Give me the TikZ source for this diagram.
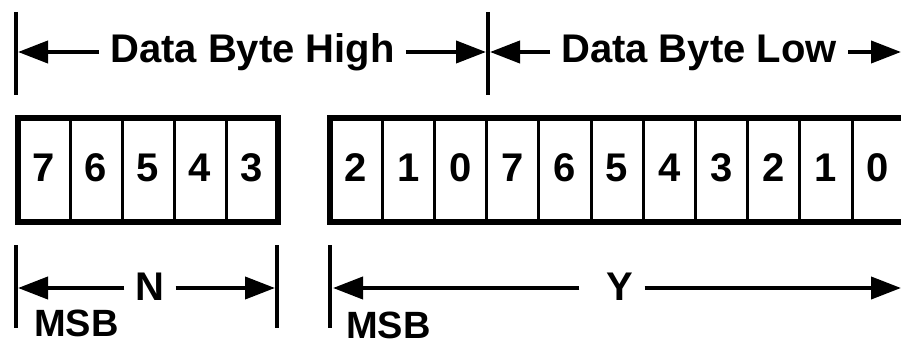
\documentclass[tikz,border=0pt]{standalone}
\usepackage{fontspec}
\setmainfont{Liberation Sans}
\usetikzlibrary{arrows.meta}
\begin{document}
\begin{tikzpicture}[x={(1pt,0pt)},y={(0pt,-1pt)},
  lbl/.style={font=\bfseries\fontsize{40}{40}\selectfont, inner xsep=11pt, inner ysep=0pt, anchor=base},
  msb/.style={font=\bfseries\fontsize{38}{38}\selectfont, inner sep=0pt, anchor=base},
  cell/.style={draw, line width=3pt, minimum width=52pt, minimum height=104pt, inner sep=0pt, outer sep=0pt, text depth=4pt, font=\bfseries\fontsize{40}{40}\selectfont},
  frame/.style={draw, line width=6pt},
  tick/.style={line width=3.5pt},
  arr/.style={line width=4pt, -{Triangle[length=30pt,width=22pt]}},
]
\useasboundingbox (0,0) rectangle (901,347);
\clip (0,0) rectangle (901,347);

% top dimension line
\coordinate (tka) at (16,12);
\coordinate (tkb) at (16,95);
\coordinate (tkc) at (488,12);
\coordinate (tkd) at (488,95);
\draw[tick] (tka) -- (tkb);
\draw[tick] (tkc) -- (tkd);
\node[lbl] (high) at (252.5,63) {Data Byte High};
\node[lbl] (low) at (699,63) {Data Byte Low};
\coordinate (h1) at (18,52);
\coordinate (h2) at (486,52);
\coordinate (l1) at (490,52);
\coordinate (l2) at (901,52);
\draw[arr] (high.west |- h1) -- (h1);
\draw[arr] (high.east |- h2) -- (h2);
\draw[arr] (low.west |- l1) -- (l1);
\draw[arr] (low.east |- l2) -- (l2);

% cells
\foreach \d [count=\i from 0] in {7,6,5,4,3}
  \node[cell] (a\i) at (44+52*\i,170) {\d};
\draw[frame] (a0.north west) rectangle (a4.south east);
\foreach \d [count=\i from 0] in {2,1,0,7,6,5,4,3,2,1,0}
  \node[cell, minimum width=52.2pt] (b\i) at (356.1+52.2*\i,170) {\d};
\draw[frame] (b0.north west) rectangle (b10.south east);

% bottom dimension lines
\coordinate (ba) at (16,245);
\coordinate (bb) at (16,328);
\coordinate (bc) at (277,245);
\coordinate (bd) at (277,328);
\coordinate (be) at (330,245);
\coordinate (bf) at (330,328);
\draw[tick] (ba) -- (bb);
\draw[tick] (bc) -- (bd);
\draw[tick] (be) -- (bf);
\node[lbl] (N) at (150,300) {N};
\node[lbl] (Y) at (620,300) {Y};
\coordinate (n1) at (18,288);
\coordinate (n2) at (275,288);
\coordinate (y1) at (333,288);
\coordinate (y2) at (901,288);
\draw[arr] (N.west |- n1) -- (n1);
\draw[arr] (N.east |- n2) -- (n2);
\draw[arr] ([xshift=-16pt]Y.west |- y1) -- (y1);
\draw[arr] (Y.east |- y2) -- (y2);
\node[msb] (m1) at (76.5,336) {MSB};
\node[msb] (m2) at (388.5,338) {MSB};
\end{tikzpicture}
\end{document}
